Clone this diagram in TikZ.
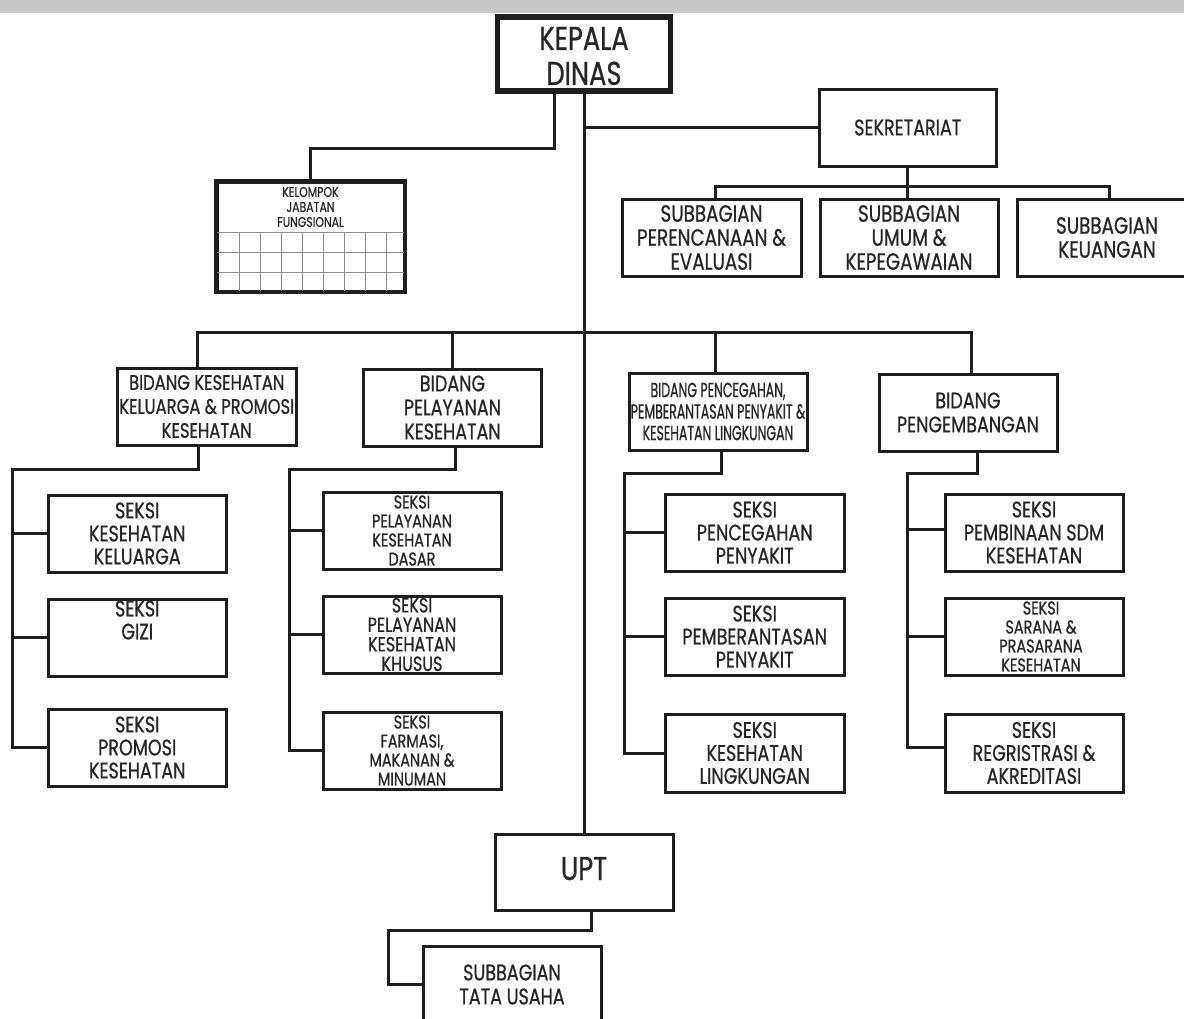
\documentclass[tikz,border=0pt]{standalone}
\usepackage{fontspec}
\setmainfont{Poppins}[FakeStretch=0.78, FakeBold=0.7]
\newfontfamily\narrowfont{Poppins}[FakeStretch=0.61, FakeBold=0.7]
\definecolor{ink}{HTML}{1E1E1E}
\definecolor{txt}{HTML}{262626}
\definecolor{band}{HTML}{C8C8C8}
\definecolor{gridc}{HTML}{8C8C8C}
\tikzset{
  box/.style={draw=ink, line width=3pt, rectangle, inner sep=0pt, align=center, text=txt},
  headbox/.style={box, line width=5.5pt},
  conn/.style={draw=ink, line width=3pt, line join=miter},
  fkd/.style={font=\fontsize{33}{35}\selectfont},
  fstd/.style={font=\fontsize{22.5}{24}\selectfont},
  fsub/.style={font=\fontsize{23.5}{24}\selectfont},
  fsek/.style={font=\fontsize{22.5}{23}\selectfont},
  ftight/.style={font=\fontsize{20.5}{19.5}\selectfont},
  fsmall/.style={font=\fontsize{18.5}{19}\selectfont},
  fnarrow/.style={font=\narrowfont\fontsize{20.5}{21.5}\selectfont},
  ftiny/.style={font=\fontsize{14}{15}\selectfont},
  gridline/.style={draw=gridc, line width=0.8pt}
}
\begin{document}
\begin{tikzpicture}[x=1pt,y=-1pt]
\useasboundingbox (0,0) rectangle (1184,1018);
\fill[white] (0,0) rectangle (1184,1018);
\fill[band] (0,0) rectangle (1184,13);

% top
\node[headbox, minimum width=173pt, minimum height=74pt] (kd) at (584,54) {};
\node[fkd, text=txt, align=center, inner sep=0pt] (kdt) at (584,56) {KEPALA\\DINAS};
\node[box, fstd, minimum width=177.5pt, minimum height=77pt] (sek) at (907.75,127.5) {SEKRETARIAT};
\node[box, minimum width=187pt, minimum height=109pt] (kjf) at (310.5,236.5) {};
\node[ftiny, text=txt, align=center, inner sep=0pt] (kjft) at (310.5,207) {KELOMPOK\\JABATAN\\FUNGSIONAL};
\foreach \yy in {232,252,272} \draw[gridline] (217,\yy) -- (404,\yy);
\foreach \xx in {239,260,281,302,323,344,365,386} \draw[gridline] (\xx,232) -- (\xx,291);
\draw[ink, line width=3pt] (kjf.north west) rectangle (kjf.south east);

\node[box, fsub, minimum width=179pt, minimum height=77pt] (sb1) at (711.5,237.5) {SUBBAGIAN\\PERENCANAAN \&\\EVALUASI};
\node[box, fsub, minimum width=178pt, minimum height=77pt] (sb2) at (909,237.5) {SUBBAGIAN\\UMUM \&\\KEPEGAWAIAN};
\node[box, fsub, minimum width=180pt, minimum height=77pt] (sb3) at (1107,237.5) {SUBBAGIAN\\KEUANGAN};

% bidang
\node[box, font=\fontsize{21}{24}\selectfont, minimum width=178.5pt, minimum height=77pt] (b1) at (206.75,406.5) {BIDANG KESEHATAN\\KELUARGA \& PROMOSI\\KESEHATAN};
\node[box, fstd, minimum width=178pt, minimum height=77pt] (b2) at (452.5,407.5) {BIDANG\\PELAYANAN\\KESEHATAN};
\node[box, fnarrow, minimum width=178pt, minimum height=77pt] (b3) at (718,411.5) {BIDANG PENCEGAHAN,\\PEMBERANTASAN PENYAKIT \&\\KESEHATAN LINGKUNGAN};
\node[box, fstd, minimum width=178pt, minimum height=77pt] (b4) at (968,412.5) {BIDANG\\PENGEMBANGAN};

% seksi col 1
\node[box, fsek, minimum width=178.5pt, minimum height=77pt] (s11) at (137.25,533.5) {SEKSI\\KESEHATAN\\KELUARGA};
\node[box, fsek, minimum width=178.5pt, minimum height=77pt] (s12) at (137.25,637.5) {SEKSI\\GIZI\\[12pt]};
\node[box, fsek, minimum width=178.5pt, minimum height=77pt] (s13) at (137.25,747.5) {SEKSI\\PROMOSI\\KESEHATAN};
% col 2
\node[box, fsmall, minimum width=178pt, minimum height=77pt] (s21) at (412,530.5) {SEKSI\\PELAYANAN\\KESEHATAN\\DASAR};
\node[box, ftight, minimum width=178pt, minimum height=77pt] (s22) at (412,634.5) {SEKSI\\PELAYANAN\\KESEHATAN\\KHUSUS};
\node[box, fsmall, minimum width=178pt, minimum height=77pt] (s23) at (412,750.5) {SEKSI\\FARMASI,\\MAKANAN \&\\MINUMAN};
% col 3
\node[box, fsek, minimum width=178.5pt, minimum height=77pt] (s31) at (754.75,532.5) {SEKSI\\PENCEGAHAN\\PENYAKIT};
\node[box, fsek, minimum width=178.5pt, minimum height=77pt] (s32) at (754.75,636.5) {SEKSI\\PEMBERANTASAN\\PENYAKIT};
\node[box, fsek, minimum width=178.5pt, minimum height=78pt] (s33) at (754.75,753) {SEKSI\\KESEHATAN\\LINGKUNGAN};
% col 4
\node[box, fsek, minimum width=178pt, minimum height=77pt] (s41) at (1034,532.5) {SEKSI\\PEMBINAAN SDM\\KESEHATAN};
\node[box, fsmall, minimum width=178pt, minimum height=77pt] (s42) at (1034,636.5) {\hspace*{14pt}SEKSI\\\hspace*{14pt}SARANA \&\\\hspace*{14pt}PRASARANA\\\hspace*{14pt}KESEHATAN};
\node[box, fsek, minimum width=178pt, minimum height=78pt] (s43) at (1034,753) {SEKSI\\REGRISTRASI \&\\AKREDITASI};

% UPT
\node[box, fkd, minimum width=178pt, minimum height=76pt] (upt) at (584,872) {\raisebox{7pt}{UPT}};
\node[box, fstd, minimum width=178pt, minimum height=77pt] (tu) at (512,984.5) {SUBBAGIAN\\TATA USAHA};

% coordinates for bends
\coordinate (kjfbend) at (554,148);
\coordinate (sekbus) at (907.75,186);
\coordinate (bbus) at (584,332);
\coordinate (k1) at (12,469);
\coordinate (k2) at (289,469);
\coordinate (k3) at (624,473);
\coordinate (k4) at (907,473);
\coordinate (ku) at (388,930);

% connectors
\draw[conn] (kd.south) -- (kd.south |- upt.north);
\draw[conn] (kd.south -| kjfbend) -- (kjfbend) -| (kjf.north);
\draw[conn] (kd.south |- sek.west) -- (sek.west);
\draw[conn] (sek.south) -- (sekbus);
\draw[conn] ([xshift=4pt]sb1.north) |- (sekbus) -| ([xshift=2.5pt]sb3.north);
\draw[conn] (sekbus) -- (sekbus |- sb2.north);

\draw[conn] ([xshift=-9pt]b1.north) |- (bbus) -| ([xshift=3pt]b4.north);
\draw[conn] (b2.north) -- (b2.north |- bbus);
\draw[conn] ([xshift=-2.5pt]b3.north) -- ([xshift=-2.5pt]b3.north |- bbus);

\draw[conn] ([xshift=-8pt]b1.south) |- (k1) -- (k1 |- s13.west) -- (s13.west);
\draw[conn] (k1 |- s11.west) -- (s11.west);
\draw[conn] (k1 |- s12.west) -- (s12.west);

\draw[conn] ([xshift=2.5pt]b2.south) |- (k2) -- (k2 |- s23.west) -- (s23.west);
\draw[conn] (k2 |- s21.west) -- (s21.west);
\draw[conn] (k2 |- s22.west) -- (s22.west);

\draw[conn] ([xshift=3pt]b3.south) |- (k3) -- (k3 |- s33.west) -- (s33.west);
\draw[conn] (k3 |- s31.west) -- (s31.west);
\draw[conn] (k3 |- s32.west) -- (s32.west);

\draw[conn] ([xshift=9pt]b4.south) |- (k4) -- ([yshift=6pt]k4 |- s43.west) -- ([yshift=6pt]s43.west);
\draw[conn] ([yshift=3.5pt]k4 |- s41.west) -- ([yshift=3.5pt]s41.west);
\draw[conn] (k4 |- s42.west) -- (s42.west);

\draw[conn] ([xshift=7pt]upt.south) |- (ku) -- (ku |- tu.west) -- (tu.west);
\end{tikzpicture}
\end{document}
